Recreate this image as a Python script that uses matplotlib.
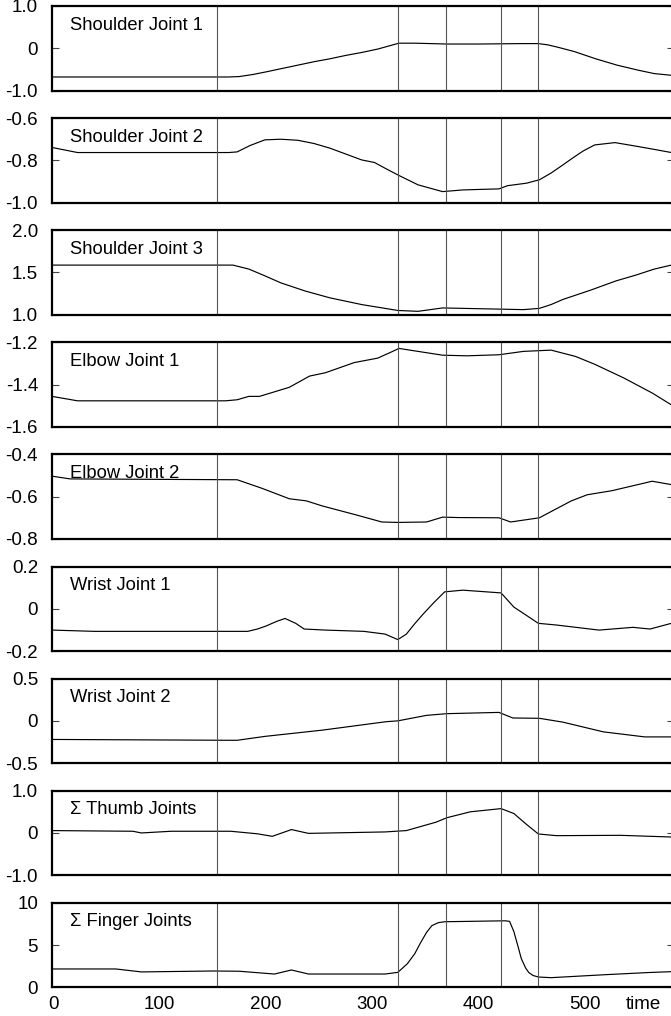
import matplotlib
matplotlib.use("Agg")
import matplotlib.pyplot as plt

plt.rcParams['font.family'] = ['Liberation Sans', 'DejaVu Sans']

# phase boundaries (time)
phase_lines = [154, 324, 369, 421, 456]

titles = ["Shoulder Joint 1", "Shoulder Joint 2", "Shoulder Joint 3",
          "Elbow Joint 1", "Elbow Joint 2", "Wrist Joint 1", "Wrist Joint 2",
          "\u03a3 Thumb Joints", "\u03a3 Finger Joints"]

ylims = [(-1.0, 1.0), (-1.0, -0.6), (1.0, 2.0), (-1.6, -1.2), (-0.8, -0.4),
         (-0.2, 0.2), (-0.5, 0.5), (-1.0, 1.0), (0, 10)]
ytick_labels = [["-1.0", "0", "1.0"], ["-1.0", "-0.8", "-0.6"], ["1.0", "1.5", "2.0"],
                ["-1.6", "-1.4", "-1.2"], ["-0.8", "-0.6", "-0.4"], ["-0.2", "0", "0.2"],
                ["-0.5", "0", "0.5"], ["-1.0", "0", "1.0"], ["0", "5", "10"]]

sj1_t = [0, 165, 175, 188, 200, 215, 230, 245, 260, 275, 290, 305, 315, 325, 340, 370, 400, 440, 456, 465,
         475, 490, 510, 530, 550, 565, 581]
sj1_v = [-0.68, -0.68, -0.67, -0.62, -0.56, -0.48, -0.40, -0.32, -0.25, -0.17, -0.10, -0.02, 0.05, 0.12,
         0.12, 0.10, 0.10, 0.11, 0.11, 0.08, 0.02, -0.08, -0.25, -0.40, -0.52, -0.60, -0.64]

sj2_t = [-1, 23, 165, 173, 185, 199, 214, 230, 245, 260, 275, 290, 302, 313, 324, 343, 366, 385, 419, 427,
         445, 457, 468, 479, 488, 498, 509, 528, 548, 567, 581]
sj2_v = [-0.739, -0.763, -0.763, -0.76, -0.73, -0.703, -0.70, -0.705, -0.72, -0.742, -0.77, -0.798, -0.81,
         -0.84, -0.869, -0.916, -0.948, -0.94, -0.935, -0.92, -0.908, -0.892, -0.86, -0.822, -0.79, -0.756,
         -0.727, -0.716, -0.733, -0.75, -0.763]

sj3_t = [-1, 169, 184, 199, 214, 237, 260, 290, 324, 343, 366, 404, 442, 457, 468, 479, 505, 529, 548, 565,
         581]
sj3_v = [1.587, 1.587, 1.54, 1.46, 1.377, 1.28, 1.20, 1.12, 1.05, 1.04, 1.08, 1.07, 1.06, 1.075, 1.12, 1.18,
         1.29, 1.40, 1.47, 1.54, 1.587]

ej1_t = [-1, 23, 162, 173, 184, 194, 222, 241, 256, 283, 305, 317, 325, 366, 389, 419, 442, 468, 491, 509,
         536, 563, 581]
ej1_v = [-1.456, -1.477, -1.477, -1.472, -1.456, -1.456, -1.413, -1.36, -1.344, -1.296, -1.275, -1.248,
         -1.229, -1.261, -1.264, -1.259, -1.243, -1.237, -1.267, -1.304, -1.368, -1.44, -1.496]

ej2_t = [-1, 16, 173, 196, 222, 238, 253, 283, 309, 324, 351, 366, 381, 419, 430, 457, 487, 502, 525, 563, 581]
ej2_v = [-0.503, -0.516, -0.52, -0.56, -0.61, -0.62, -0.644, -0.684, -0.72, -0.722, -0.72, -0.697, -0.699,
         -0.70, -0.72, -0.70, -0.62, -0.591, -0.572, -0.527, -0.543]

wj1_t = [-1, 39, 183, 192, 200, 210, 218, 228, 236, 256, 292, 312, 324, 332, 340, 348, 358, 368, 385, 421,
         433, 445, 456, 473, 513, 545, 561, 581]
wj1_v = [-0.101, -0.107, -0.107, -0.096, -0.082, -0.06, -0.046, -0.069, -0.096, -0.101, -0.107, -0.12,
         -0.146, -0.12, -0.07, -0.024, 0.03, 0.08, 0.088, 0.075, 0.008, -0.032, -0.069, -0.077, -0.101,
         -0.088, -0.096, -0.069]

wj2_t = [-1, 165, 173, 199, 253, 313, 324, 351, 370, 419, 432, 457, 479, 517, 556, 581]
wj2_v = [-0.22, -0.23, -0.23, -0.184, -0.11, -0.01, 0.0, 0.065, 0.085, 0.10, 0.034, 0.03, -0.015, -0.13,
         -0.19, -0.19]

thumb_t = [-1, 75, 83, 111, 167, 192, 206, 224, 240, 312, 332, 360, 370, 392, 421, 433, 445, 456, 473, 533, 581]
thumb_v = [0.056, 0.04, 0.0, 0.04, 0.04, -0.02, -0.08, 0.08, -0.01, 0.024, 0.056, 0.256, 0.36, 0.50, 0.576,
           0.46, 0.2, -0.024, -0.064, -0.056, -0.096]

finger_t = [-1, 59, 83, 151, 175, 208, 224, 240, 312, 324, 333, 340, 345, 351, 356, 362, 368, 425, 429, 433,
            437, 440, 444, 447, 451, 456, 468, 520, 560, 581]
finger_v = [2.17, 2.17, 1.82, 1.93, 1.9, 1.57, 2.05, 1.57, 1.57, 1.77, 2.8, 4.0, 5.2, 6.5, 7.3, 7.65, 7.76,
            7.87, 7.8, 6.6, 4.8, 3.4, 2.3, 1.75, 1.4, 1.22, 1.14, 1.5, 1.75, 1.85]

series = [(sj1_t, sj1_v), (sj2_t, sj2_v), (sj3_t, sj3_v), (ej1_t, ej1_v), (ej2_t, ej2_v),
          (wj1_t, wj1_v), (wj2_t, wj2_v), (thumb_t, thumb_v), (finger_t, finger_v)]

W, H = 671, 1016
fig = plt.figure(figsize=(W / 100, H / 100), dpi=100)

left_px, right_px = 52, 674
top0, pitch, height = 6, 112.1, 84.5

for i in range(9):
    top = top0 + pitch * i
    ax = fig.add_axes([left_px / W, 1 - (top + height) / H, (right_px - left_px) / W, height / H])
    t, v = series[i]
    ax.plot(t, v, color='black', lw=0.85)
    for x in phase_lines:
        ax.axvline(x, color='#555555', lw=0.8)
    lo, hi = ylims[i]
    ax.set_ylim(lo, hi)
    ax.set_xlim(-1, 583.5)
    ax.set_yticks([lo, (lo + hi) / 2, hi])
    ax.set_yticklabels(ytick_labels[i])
    ax.tick_params(axis='y', direction='in', length=5, width=0.8, left=True, right=True,
                   labelsize=13.5, pad=10, color='#444444')
    for s in ax.spines.values():
        s.set_linewidth(1.6)
    ax.text(0.029, 0.775, titles[i], transform=ax.transAxes, fontsize=13.2, va='center', ha='left')
    if i < 8:
        ax.set_xticks([])
    else:
        ax.set_xticks([0, 100, 200, 300, 400, 500])
        ax.tick_params(axis='x', length=0, labelsize=13.5, pad=6)
        ax.annotate("time", xy=(555, 0), xycoords=('data', 'axes fraction'),
                    xytext=(0, -6), textcoords='offset points', ha='center', va='top', fontsize=13.5)

fig.savefig("out.png", dpi=100)
